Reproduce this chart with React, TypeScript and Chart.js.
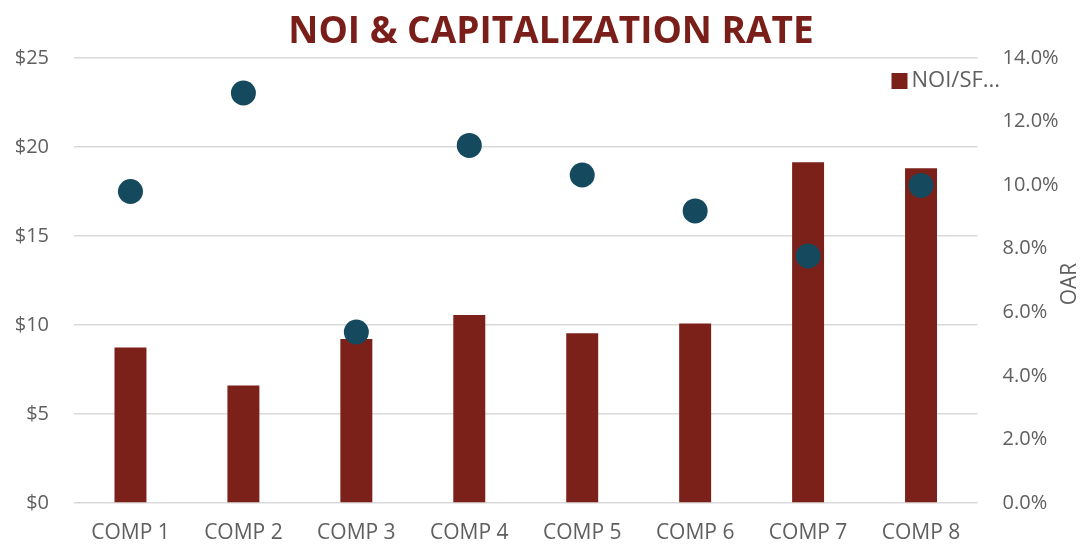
import React, { useEffect, useRef } from "react";
import { Chart, registerables } from "chart.js";

Chart.register(...registerables);

const categories = ["COMP 1", "COMP 2", "COMP 3", "COMP 4", "COMP 5", "COMP 6", "COMP 7", "COMP 8"];
const noiPerSf = [8.74, 6.6, 9.21, 10.56, 9.53, 10.09, 19.15, 18.81];
const oar = [9.8, 12.9, 5.38, 11.25, 10.32, 9.19, 7.77, 9.99];
const barLabel = "NOI/SF...";
const lineLabel = "OAR";
const titleText = "NOI & CAPITALIZATION RATE";

const BAR_COLOR = "#7b2119";
const DOT_COLOR = "#154a5e";
const TITLE_COLOR = "#7a1e19";
const TEXT_COLOR = "#5f5f5f";
const GRID_COLOR = "#d9d9d9";
const FONT = "'Open Sans', 'Noto Sans', sans-serif";

const extrasPlugin = {
  id: "extras",
  afterDraw(chart: any) {
    const ctx = chart.ctx;
    const area = chart.chartArea;
    ctx.save();
    // title
    ctx.fillStyle = TITLE_COLOR;
    ctx.font = `bold 37px ${FONT}`;
    ctx.textAlign = "center";
    ctx.textBaseline = "alphabetic";
    ctx.fillText(titleText, 551, 43);
    // legend (inside top-right)
    const lx = area.right - 86;
    const ly = area.top + 15;
    ctx.fillStyle = BAR_COLOR;
    ctx.fillRect(lx, ly, 16, 16);
    ctx.fillStyle = TEXT_COLOR;
    ctx.font = `22px ${FONT}`;
    ctx.textAlign = "left";
    ctx.textBaseline = "middle";
    ctx.fillText(barLabel, lx + 20, ly + 8);
    // right axis title, reading bottom-to-top
    ctx.font = `21px ${FONT}`;
    ctx.translate(area.right + 93, 284);
    ctx.rotate(-Math.PI / 2);
    ctx.textAlign = "center";
    ctx.fillText(lineLabel, 0, 0);
    ctx.restore();
  },
};

export default function App() {
  const ref = useRef<HTMLCanvasElement | null>(null);
  useEffect(() => {
    if (!ref.current) return;
    const chart = new Chart(ref.current, {
      type: "bar",
      data: {
        labels: categories,
        datasets: [
          {
            type: "line",
            label: lineLabel,
            data: oar,
            yAxisID: "y1",
            showLine: false,
            pointRadius: 12.5,
            pointHoverRadius: 12.5,
            pointBackgroundColor: DOT_COLOR,
            pointBorderColor: DOT_COLOR,
            pointBorderWidth: 0,
            backgroundColor: DOT_COLOR,
            borderColor: DOT_COLOR,
            order: 0,
          } as any,
          {
            type: "bar",
            label: barLabel,
            data: noiPerSf,
            yAxisID: "y",
            backgroundColor: BAR_COLOR,
            borderWidth: 0,
            barPercentage: 0.566,
            categoryPercentage: 0.5,
            order: 1,
          },
        ],
      },
      plugins: [extrasPlugin],
      options: {
        responsive: false,
        animation: false,
        devicePixelRatio: 1,
        layout: { padding: { left: 0, right: 0, top: 58, bottom: 0 } },
        plugins: {
          legend: { display: false },
          tooltip: { enabled: false },
          title: { display: false },
        },
        scales: {
          x: {
            grid: { display: false },
            border: { display: false },
            ticks: {
              color: TEXT_COLOR,
              font: { family: FONT, size: 21 },
              padding: 9,
              maxRotation: 0,
            },
            afterFit: (s: any) => {
              s.height = 47;
            },
          },
          y: {
            position: "left",
            min: 0,
            max: 25,
            ticks: {
              stepSize: 5,
              color: TEXT_COLOR,
              font: { family: FONT, size: 20 },
              padding: 25,
              callback: (v: any) => "$" + v,
            },
            grid: { color: GRID_COLOR, lineWidth: 1.5, drawTicks: false },
            border: { display: false },
            afterFit: (s: any) => {
              s.width = 74;
            },
          },
          y1: {
            position: "right",
            min: 0,
            max: 14,
            ticks: {
              stepSize: 2,
              color: TEXT_COLOR,
              font: { family: FONT, size: 20 },
              padding: 25,
              callback: (v: any) => Number(v).toFixed(1) + "%",
            },
            grid: { display: false, drawTicks: false },
            border: { display: false },
            afterFit: (s: any) => {
              s.width = 103.5;
            },
          },
        },
      },
    } as any);
    return () => chart.destroy();
  }, []);
  return (
    <div style={{ position: "fixed", left: 0, top: 0, width: 1081, height: 550, background: "#fff" }}>
      <canvas ref={ref} width={1081} height={550} />
    </div>
  );
}
